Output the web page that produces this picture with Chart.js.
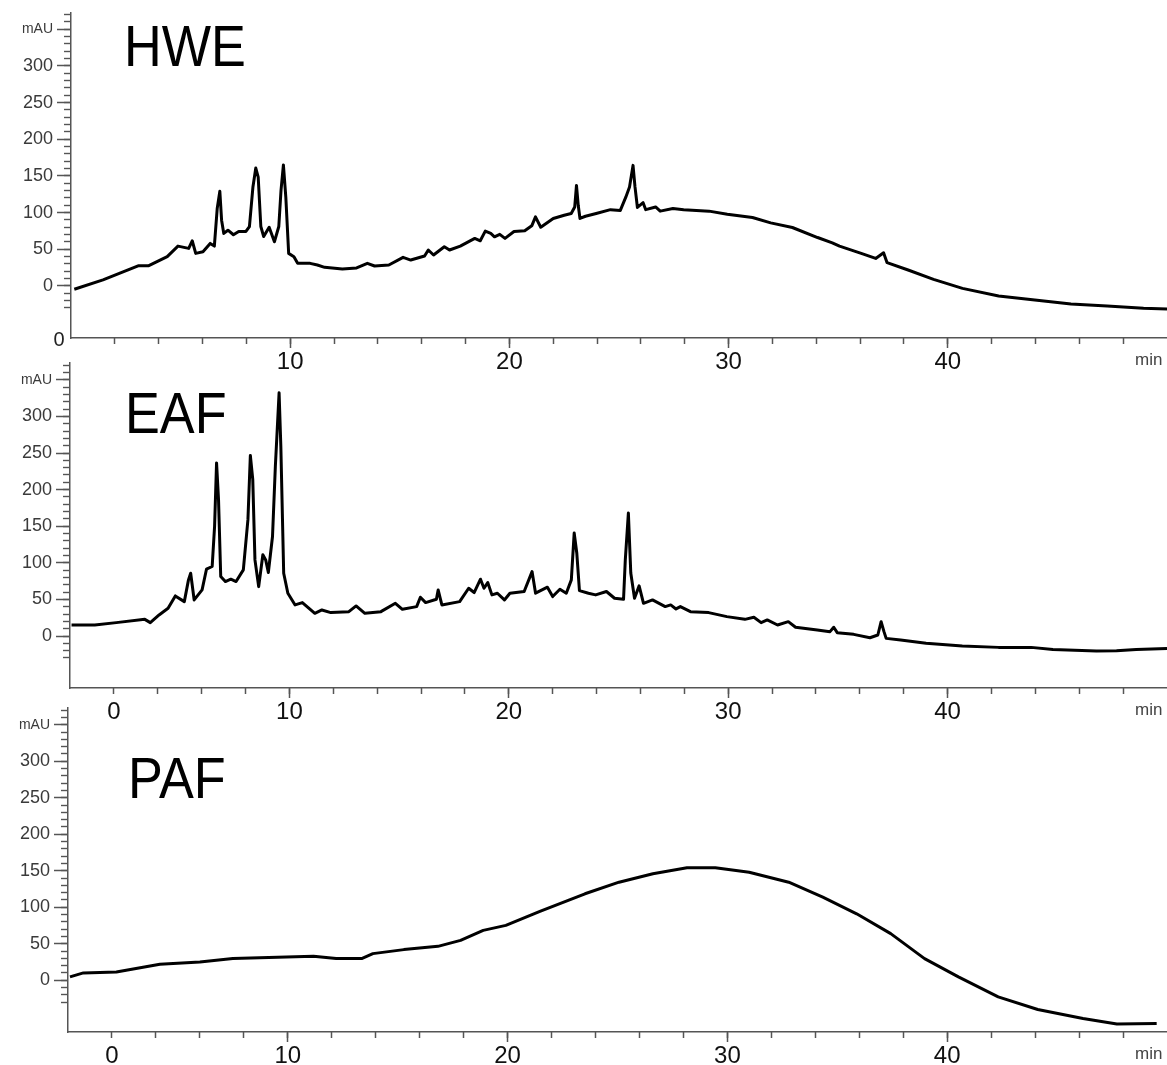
<!DOCTYPE html>
<html>
<head>
<meta charset="utf-8">
<title>HWE / EAF / PAF chromatograms</title>
<script src="https://cdn.jsdelivr.net/npm/chart.js@4.4.0/dist/chart.umd.min.js"></script>
<style>
  body { margin: 0; background: #fff; }
  #wrap { position: relative; width: 1167px; height: 1065px; overflow: hidden; }
  #wrap canvas { position: absolute; left: 0; }
</style>
</head>
<body>
<div id="wrap">
  <canvas id="hwe" width="1167" height="372" style="top:0px"></canvas>
  <canvas id="eaf" width="1167" height="372" style="top:350px"></canvas>
  <canvas id="paf" width="1167" height="370" style="top:695px"></canvas>
</div>
<script>
// retention time (min) and absorbance (mAU)
const hweTime = [0.15, 1.46, 3.09, 3.55, 4.39, 4.88, 5.37, 5.53, 5.69, 6.02, 6.35, 6.54, 6.67, 6.79, 6.87, 6.97,
  7.16, 7.41, 7.65, 7.98, 8.14, 8.30, 8.43, 8.54, 8.66, 8.79, 9.04, 9.28, 9.48, 9.58, 9.69, 9.80, 9.93,
  10.17, 10.34, 10.91, 11.24, 11.57, 12.38, 13.03, 13.52, 13.85, 14.5, 15.15, 15.5, 16.13, 16.3, 16.54,
  17.03, 17.27, 17.76, 18.42, 18.67, 18.9, 19.15, 19.32, 19.56, 19.8, 20.21, 20.7, 21.02, 21.19, 21.43,
  22.0, 22.5, 22.82, 22.98, 23.06, 23.14, 23.22, 23.47, 23.96, 24.61, 25.06, 25.31, 25.48, 25.64, 25.73,
  25.84, 26.1, 26.22, 26.67, 26.88, 27.46, 27.95, 29.11, 29.94, 31.09, 31.92, 32.91, 34.06, 34.73, 35.06,
  36.05, 36.71, 37.07, 37.23, 38.19, 39.35, 40.67, 42.32, 43.97, 45.62, 47.27, 48.93, 50.0];
const hweMau = [-4.5, 8.2, 27.6, 27.6, 39.9, 54.3, 51.2, 61.6, 44.4, 46.6, 58, 54.3, 105.5, 129, 89.7, 71.6,
  76, 69.8, 74.3, 74.3, 81, 135, 160.8, 148.5, 81, 67.4, 80, 60.2, 81, 130, 165, 121, 44.4,
  39.9, 30.8, 30.8, 28.5, 25.4, 23.1, 24.5, 30.8, 27.2, 28.5, 39, 35.3, 40.8, 49, 42.2,
  53.5, 49, 54.3, 64.8, 61.6, 74.7, 71.6, 67, 70.3, 64.8, 74.3, 75.3, 82, 94.2, 80,
  91.9, 96.4, 98.7, 107.7, 137, 110, 92, 95, 98.7, 104, 103, 121, 135, 164.4, 135,
  107, 113.5, 104, 107.7, 102, 105.5, 104, 102, 97.8, 93.3, 86, 79.7, 66, 58.8, 54.3,
  44.4, 37.5, 45.3, 31.7, 21.7, 9, -3.3, -13.7, -19.2, -24.6, -27.4, -30.5, -31.5];

const eafTime = [0.07, 1.13, 2.11, 3.41, 3.66, 4.06, 4.47, 4.80, 5.21, 5.40, 5.50, 5.66, 6.02, 6.22, 6.48,
  6.59, 6.68, 6.77, 6.87, 7.08, 7.33, 7.57, 7.9, 8.11, 8.22, 8.33, 8.43, 8.6, 8.79, 8.92, 9.04, 9.23,
  9.36, 9.53, 9.61, 9.74, 9.93, 10.26, 10.59, 11.16, 11.48, 11.89, 12.71, 13.04, 13.44, 14.17, 14.83,
  15.15, 15.8, 15.97, 16.21, 16.7, 16.78, 16.95, 17.76, 18.17, 18.42, 18.71, 18.87, 19.04, 19.23, 19.48,
  19.8, 20.05, 20.7, 21.06, 21.22, 21.76, 22.0, 22.33, 22.62, 22.85, 22.98, 23.1, 23.22, 23.63, 23.96,
  24.45, 24.82, 25.23, 25.31, 25.45, 25.56, 25.73, 25.94, 26.14, 26.55, 27.13, 27.38, 27.62, 27.82,
  28.28, 29.11, 29.94, 30.76, 31.17, 31.5, 31.78, 32.25, 32.74, 33.07, 34.06, 34.64, 34.81, 34.97,
  35.72, 36.46, 36.82, 36.97, 37.1, 37.2, 37.86, 39.02, 40.67, 42.32, 43.81, 44.8, 46.78, 47.7, 48.6, 50.0];
const eafMau = [15.1, 15, 18.3, 22.8, 18.3, 28.8, 37.9, 54.8, 47, 76.7, 85.8, 49.3, 63, 91.3, 95,
  149.7, 236.5, 186, 81.3, 74.4, 77.6, 74.4, 90.4, 159, 246.6, 214, 104, 67.5, 111, 104, 86.8, 136,
  232, 332.4, 259, 85.8, 58.4, 42.5, 45.7, 31, 35.6, 32, 33.3, 41.1, 31, 33.3, 44.7,
  36.5, 40.2, 53, 45.7, 50.2, 63, 42.5, 47, 65.3, 59.4, 77.6, 65.3, 73, 56.2, 58.5,
  49.3, 58.5, 60.8, 88, 58.5, 66.7, 53.9, 64, 58.5, 76.7, 140.7, 113, 62.1, 58.5, 56.2,
  60.8, 51.6, 50.2, 104, 168, 86, 51.6, 68.5, 44.7, 49.3, 40.2, 42.5, 37, 40.2,
  33.3, 32, 26.5, 22.8, 25.6, 18.3, 22, 15.1, 19.6, 12, 8.2, 6, 12, 4.6,
  2.3, -2.3, 1.4, 19.6, 6, -3.2, -5.5, -10, -13.7, -15.5, -15.5, -18.3, -20.5, -20, -18.3, -17];

const pafTime = [0.09, 0.7, 2.2, 4.18, 6.0, 7.5, 9.94, 11.17, 12.2, 13.36, 13.87, 15.28, 16.83, 17.86, 18.89,
  19.92, 21.47, 23.52, 25.07, 26.61, 28.16, 29.45, 30.99, 32.79, 34.34, 35.88, 37.43, 38.97, 40.51,
  42.32, 44.12, 46.18, 47.72, 49.53];
const pafMau = [4.5, 10, 11.3, 21.9, 25, 29.6, 31.8, 32.8, 29.6, 29.6, 36.4, 41.9, 46.4, 54.6, 68.3,
  75.1, 94.3, 118.4, 134.3, 145.8, 154, 154, 148, 134.3, 113.8, 91, 63.8, 29.6, 4.6,
  -22.8, -40.1, -52.4, -60.1, -59.2];

// tick labels
const yTickValues = [0, 50, 100, 150, 200, 250, 300, 350];
const yTickLabels = ['0', '50', '100', '150', '200', '250', '300', 'mAU'];
const xTickValuesTop = [10, 20, 30, 40];
const xTickLabelsTop = ['10', '20', '30', '40'];
const xTickValuesLow = [2, 10, 20, 30, 40];
const xTickLabelsLow = ['0', '10', '20', '30', '40'];

const FONT = '"Liberation Sans", Arial, Helvetica, sans-serif';
const AXIS = '#555';

function range(a, b, step) {
  const out = [];
  for (let v = a; v <= b + 1e-9; v += step) out.push({ value: v });
  return out;
}

// titles, the "min" unit and the stray corner zero
const textPlugin = {
  id: 'panelText',
  afterDraw(chart) {
    const o = chart.options.plugins.panelText;
    const ctx = chart.ctx;
    const area = chart.chartArea;
    ctx.save();
    ctx.fillStyle = '#000';
    ctx.textBaseline = 'alphabetic';
    ctx.textAlign = 'left';
    ctx.font = '58px ' + FONT;
    ctx.translate(o.titleX, o.titleY);
    ctx.scale(0.9, 1);
    ctx.fillText(o.title, 0, 0);
    ctx.restore();

    ctx.save();
    ctx.fillStyle = '#444';
    ctx.font = '17px ' + FONT;
    ctx.textBaseline = 'alphabetic';
    ctx.fillText('min', 1135, area.bottom + 27);
    if (o.cornerZero) {
      ctx.fillStyle = '#222';
      ctx.font = '20px ' + FONT;
      ctx.textAlign = 'center';
      ctx.textBaseline = 'middle';
      ctx.fillText('0', 59, area.bottom + 2);
    }
    ctx.restore();
  }
};

function buildPanel(id, cfg) {
  const ctx = document.getElementById(id).getContext('2d');
  const points = cfg.time.map((t, i) => ({ x: t, y: cfg.mau[i] }));
  return new Chart(ctx, {
    type: 'line',
    data: {
      datasets: [{
        label: cfg.title,
        data: points,
        borderColor: '#000',
        borderWidth: 3,
        borderJoinStyle: 'round',
        pointRadius: 0,
        tension: 0,
        fill: false
      }]
    },
    options: {
      responsive: false,
      animation: false,
      events: [],
      layout: { padding: { top: cfg.padTop, right: 0, left: 0, bottom: 0 } },
      plugins: {
        legend: { display: false },
        tooltip: { enabled: false },
        panelText: { title: cfg.title, titleX: cfg.titleX, titleY: cfg.titleY, cornerZero: cfg.cornerZero }
      },
      scales: {
        x: {
          type: 'linear', position: 'bottom', weight: 1,
          min: 0, max: 50,
          afterFit: s => { s.height = cfg.xHeight; },
          afterBuildTicks: s => { s.ticks = cfg.xTicks.map(v => ({ value: v })); },
          ticks: {
            autoSkip: false, maxRotation: 0, padding: 0,
            color: '#111',
            font: { family: FONT, size: 24 },
            callback: v => cfg.xLabels[cfg.xTicks.indexOf(v)]
          },
          grid: {
            drawOnChartArea: false, tickLength: 10, tickWidth: 1.5,
            tickColor: c => (c.tick && c.tick.value === 2) ? 'rgba(0,0,0,0)' : AXIS
          },
          border: { color: AXIS, width: 1.5 }
        },
        xMinor: {
          type: 'linear', position: 'bottom', weight: 0,
          min: 0, max: 50,
          afterFit: s => { s.height = 0; },
          afterBuildTicks: s => { s.ticks = range(2, 48, 2); },
          ticks: { display: false },
          grid: { drawOnChartArea: false, tickLength: 6, tickWidth: 1.5, tickColor: AXIS },
          border: { display: false }
        },
        y: {
          type: 'linear', position: 'left', weight: 1,
          min: -71, max: 373,
          afterFit: s => { s.width = cfg.yWidth; },
          afterBuildTicks: s => { s.ticks = yTickValues.map(v => ({ value: v })); },
          ticks: {
            autoSkip: false, padding: 4,
            color: '#3a3a3a',
            font: c => ({ family: FONT, size: (c.tick && c.tick.value === 350) ? 14 : 18 }),
            callback: v => yTickLabels[yTickValues.indexOf(v)]
          },
          grid: { drawOnChartArea: false, tickLength: 14, tickWidth: 1.5, tickColor: AXIS },
          border: { color: AXIS, width: 1.5 }
        },
        yMinor: {
          type: 'linear', position: 'left', weight: 0,
          min: -71, max: 373,
          afterFit: s => { s.width = 0; },
          afterBuildTicks: s => { s.ticks = range(-30, 370, 10); },
          ticks: { display: false },
          grid: { drawOnChartArea: false, tickLength: 7, tickWidth: 1.4, tickColor: AXIS },
          border: { display: false }
        }
      }
    },
    plugins: [textPlugin]
  });
}

buildPanel('hwe', {
  title: 'HWE', time: hweTime, mau: hweMau,
  padTop: 12, xHeight: 34, yWidth: 71,
  titleX: 124, titleY: 66, cornerZero: true,
  xTicks: xTickValuesTop, xLabels: xTickLabelsTop
});
buildPanel('eaf', {
  title: 'EAF', time: eafTime, mau: eafMau,
  padTop: 13, xHeight: 34, yWidth: 70,
  titleX: 125, titleY: 83, cornerZero: false,
  xTicks: xTickValuesLow, xLabels: xTickLabelsLow
});
buildPanel('paf', {
  title: 'PAF', time: pafTime, mau: pafMau,
  padTop: 13, xHeight: 33, yWidth: 68,
  titleX: 128, titleY: 103, cornerZero: false,
  xTicks: xTickValuesLow, xLabels: xTickLabelsLow
});
</script>
</body>
</html>
